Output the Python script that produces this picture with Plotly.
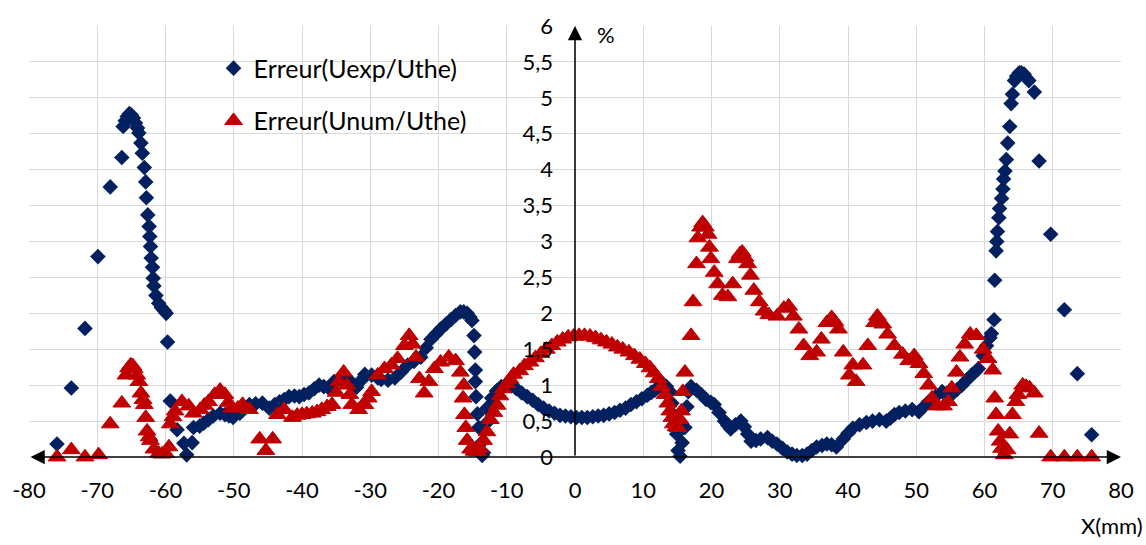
import plotly.graph_objects as go

# Erreur(Uexp/Uthe) : position X (mm) et erreur (%)
uexp_x = [
    -75.9, -73.8, -71.8, -69.9, -68.1, -66.4, -66.2, -65.9, -65.6, -65.3,
    -65.0, -64.7, -64.4, -64.1, -63.9, -63.6, -63.4, -63.1, -62.9, -62.8,
    -62.6, -62.4, -62.3, -62.2, -62.1, -61.9, -61.8, -61.7, -61.4, -61.0,
    -60.6, -60.2, -59.9, -59.7, -59.3, -58.3, -57.3, -56.9, -56.1, -55.9,
    -55.0, -54.4, -53.7, -53.0, -52.0, -51.3, -50.7, -50.1, -49.1, -48.4,
    -47.7, -46.8, -45.8, -44.8, -44.0, -43.3, -42.6, -41.9, -41.1, -40.4,
    -39.7, -39.0, -38.2, -37.5, -36.8, -36.1, -35.3, -34.6, -33.9, -33.2,
    -32.6, -32.0, -31.3, -30.8, -29.8, -28.9, -28.4, -27.4, -26.4, -25.5,
    -24.5, -23.6, -22.6, -21.8, -21.1, -20.4, -19.7, -18.9, -18.2, -17.5,
    -16.8, -16.3, -15.8, -15.4, -15.1, -14.8, -14.7, -14.6, -14.6, -14.5,
    -14.3, -14.1, -13.9, -13.6, -13.4, -13.1, -12.9, -12.2, -11.5, -10.8,
    -10.0, -9.3, -8.6, -7.8, -7.0, -6.2, -5.4, -4.6, -3.8, -3.0,
    -2.2, -1.4, -0.6, 0.2, 1.0, 1.8, 2.6, 3.4, 4.2, 5.0,
    5.8, 6.6, 7.4, 8.2, 9.0, 9.8, 10.6, 11.2, 11.7, 12.3,
    12.9, 13.4, 13.9, 14.2, 14.4, 14.7, 14.9, 15.1, 15.4, 15.7,
    16.1, 16.4, 16.6, 17.0, 17.8, 18.5, 19.2, 19.9, 20.4, 21.1,
    21.9, 22.4, 22.8, 23.5, 24.3, 24.8, 25.3, 25.8, 26.5, 27.2,
    28.2, 28.9, 29.6, 30.4, 31.1, 31.8, 32.5, 33.3, 34.0, 34.7,
    35.4, 36.2, 36.9, 37.6, 38.3, 39.3, 40.0, 40.7, 41.7, 42.7,
    43.6, 44.6, 45.6, 46.2, 46.8, 47.5, 48.4, 49.4, 50.4, 51.1,
    51.8, 52.8, 53.8, 54.5, 55.2, 56.0, 56.7, 57.4, 58.1, 58.6,
    59.1, 59.8, 60.3, 60.8, 61.0, 61.4, 61.5, 61.7, 61.8, 61.9,
    62.1, 62.2, 62.5, 62.7, 62.8, 63.0, 63.2, 63.4, 63.7, 63.9,
    64.1, 64.4, 64.7, 65.1, 65.4, 65.8, 66.1, 66.5, 67.3, 68.0,
    69.7, 71.7, 73.6, 75.7,
]
uexp_err = [
    0.18, 0.96, 1.79, 2.79, 3.76, 4.17, 4.60, 4.68, 4.74, 4.78,
    4.76, 4.72, 4.65, 4.58, 4.51, 4.37, 4.23, 4.03, 3.83, 3.61,
    3.37, 3.21, 3.07, 2.93, 2.77, 2.64, 2.49, 2.38, 2.25, 2.14,
    2.08, 2.04, 2.00, 1.60, 0.78, 0.38, 0.19, 0.03, 0.20, 0.41,
    0.43, 0.47, 0.52, 0.57, 0.61, 0.59, 0.57, 0.55, 0.61, 0.68,
    0.73, 0.74, 0.75, 0.68, 0.73, 0.77, 0.80, 0.84, 0.85, 0.84,
    0.87, 0.89, 0.95, 1.00, 0.98, 0.96, 1.05, 1.08, 1.09, 1.08,
    1.02, 0.97, 1.07, 1.15, 1.14, 1.10, 1.08, 1.07, 1.10, 1.18,
    1.28, 1.33, 1.39, 1.52, 1.64, 1.71, 1.78, 1.85, 1.91, 1.97,
    2.02, 2.02, 2.00, 1.95, 1.90, 1.69, 1.46, 1.21, 1.05, 0.84,
    0.60, 0.41, 0.18, 0.02, 0.06, 0.46, 0.68, 0.82, 0.92, 0.98,
    1.02, 0.99, 0.95, 0.89, 0.84, 0.79, 0.73, 0.68, 0.64, 0.61,
    0.58, 0.57, 0.56, 0.55, 0.55, 0.55, 0.56, 0.57, 0.58, 0.60,
    0.62, 0.65, 0.68, 0.73, 0.77, 0.81, 0.86, 0.90, 0.93, 0.98,
    1.02, 0.98, 0.91, 0.75, 0.59, 0.45, 0.32, 0.09, 0.01, 0.20,
    0.41, 0.70, 0.91, 0.98, 0.93, 0.87, 0.80, 0.76, 0.73, 0.62,
    0.50, 0.44, 0.39, 0.45, 0.50, 0.42, 0.32, 0.22, 0.23, 0.25,
    0.27, 0.22, 0.18, 0.12, 0.07, 0.04, 0.02, 0.02, 0.04, 0.09,
    0.14, 0.16, 0.18, 0.17, 0.14, 0.25, 0.33, 0.40, 0.45, 0.48,
    0.50, 0.52, 0.50, 0.54, 0.59, 0.62, 0.64, 0.66, 0.63, 0.70,
    0.77, 0.84, 0.91, 0.89, 0.87, 0.94, 1.00, 1.07, 1.14, 1.18,
    1.23, 1.41, 1.55, 1.66, 1.72, 1.91, 2.46, 2.87, 3.00, 3.14,
    3.33, 3.46, 3.60, 3.73, 3.87, 3.98, 4.14, 4.37, 4.60, 4.92,
    5.05, 5.24, 5.30, 5.35, 5.35, 5.33, 5.28, 5.24, 5.08, 4.12,
    3.10, 2.05, 1.16, 0.31,
]

# Erreur(Unum/Uthe) : position X (mm) et erreur (%)
unum_x = [
    -75.9, -73.8, -71.8, -69.8, -68.1, -66.4, -65.8, -65.4, -65.1, -64.8,
    -64.6, -64.2, -63.9, -63.6, -63.3, -63.1, -62.9, -62.7, -62.4, -62.2,
    -61.7, -61.0, -60.5, -60.0, -59.5, -59.3, -58.9, -58.6, -57.6, -56.6,
    -55.9, -54.9, -54.3, -53.7, -52.8, -52.0, -51.3, -50.8, -50.3, -49.4,
    -48.7, -47.7, -46.2, -45.3, -44.3, -43.6, -42.6, -41.4, -40.7, -40.0,
    -39.3, -38.5, -37.8, -37.1, -36.3, -35.6, -35.0, -34.6, -33.9, -33.4,
    -33.0, -32.7, -31.7, -30.8, -30.3, -29.8, -28.9, -27.9, -26.9, -26.0,
    -25.0, -24.3, -23.8, -23.3, -22.8, -22.1, -21.4, -20.6, -19.7, -18.5,
    -17.5, -16.8, -16.3, -16.4, -16.2, -16.0, -15.8, -15.3, -14.8, -14.3,
    -13.9, -13.4, -12.9, -12.4, -11.9, -11.4, -11.0, -10.5, -10.0, -9.5,
    -9.0, -8.1, -7.4, -6.6, -5.8, -5.0, -4.2, -3.4, -2.6, -1.8,
    -1.0, -0.2, 0.6, 1.4, 2.2, 3.0, 3.8, 4.6, 5.4, 6.2,
    7.0, 7.9, 8.7, 9.5, 10.3, 11.0, 11.6, 12.2, 12.7, 13.2,
    13.6, 13.9, 14.2, 14.4, 14.8, 15.1, 15.4, 15.6, 15.8, 16.1,
    17.0, 17.3, 17.8, 18.0, 18.4, 18.7, 19.1, 19.5, 19.7, 19.9,
    20.4, 20.9, 21.6, 22.4, 23.1, 23.8, 24.2, 24.5, 24.9, 25.3,
    25.7, 26.2, 27.0, 27.7, 28.4, 29.6, 30.6, 31.3, 32.0, 32.8,
    33.5, 34.4, 35.4, 36.1, 36.9, 37.6, 38.1, 38.6, 39.3, 40.2,
    40.7, 41.2, 42.2, 42.9, 43.9, 44.3, 45.1, 45.8, 46.8, 48.0,
    48.9, 49.7, 50.4, 51.1, 51.8, 52.3, 53.0, 54.0, 54.7, 55.2,
    55.9, 56.4, 57.1, 57.9, 58.8, 59.8, 60.5, 61.2, 61.5, 61.7,
    62.0, 62.3, 62.5, 62.9, 63.3, 63.7, 64.1, 64.6, 64.9, 65.6,
    66.1, 66.6, 67.3, 68.0, 69.7, 71.7, 73.6, 75.7,
]
unum_err = [
    0.00, 0.10, 0.00, 0.03, 0.46, 0.75, 1.14, 1.24, 1.28, 1.27,
    1.23, 1.14, 1.05, 0.89, 0.80, 0.73, 0.55, 0.36, 0.28, 0.23,
    0.11, 0.05, 0.04, 0.05, 0.14, 0.46, 0.56, 0.64, 0.77, 0.71,
    0.61, 0.66, 0.72, 0.77, 0.87, 0.93, 0.87, 0.76, 0.68, 0.68,
    0.73, 0.66, 0.25, 0.09, 0.25, 0.59, 0.66, 0.55, 0.58, 0.59,
    0.60, 0.61, 0.63, 0.66, 0.70, 0.73, 0.90, 1.05, 1.18, 1.00,
    0.87, 0.73, 0.66, 0.73, 0.82, 0.91, 1.14, 1.23, 1.28, 1.37,
    1.55, 1.69, 1.57, 1.39, 1.09, 0.89, 1.05, 1.23, 1.32, 1.39,
    1.34, 1.18, 1.00, 0.82, 0.59, 0.41, 0.23, 0.11, 0.08, 0.07,
    0.12, 0.23, 0.35, 0.52, 0.62, 0.72, 0.85, 0.95, 1.02, 1.08,
    1.15, 1.20, 1.27, 1.32, 1.38, 1.44, 1.50, 1.55, 1.60, 1.64,
    1.67, 1.68, 1.69, 1.69, 1.68, 1.66, 1.63, 1.60, 1.57, 1.53,
    1.50, 1.46, 1.41, 1.36, 1.30, 1.24, 1.17, 1.09, 0.98, 0.87,
    0.75, 0.64, 0.55, 0.46, 0.42, 0.41, 0.52, 0.64, 0.91, 1.18,
    1.69, 2.16, 2.69, 3.05, 3.20, 3.26, 3.20, 3.10, 2.92, 2.76,
    2.57, 2.41, 2.25, 2.23, 2.41, 2.76, 2.83, 2.85, 2.78, 2.69,
    2.53, 2.32, 2.16, 2.03, 1.98, 1.96, 2.07, 2.10, 1.96, 1.78,
    1.55, 1.41, 1.46, 1.64, 1.87, 1.94, 1.88, 1.78, 1.46, 1.14,
    1.28, 1.05, 1.28, 1.55, 1.87, 1.96, 1.85, 1.71, 1.55, 1.43,
    1.34, 1.41, 1.30, 1.16, 1.00, 0.82, 0.71, 0.71, 0.77, 0.96,
    1.18, 1.39, 1.57, 1.71, 1.69, 1.50, 1.37, 1.21, 0.82, 0.59,
    0.36, 0.22, 0.12, 0.03, 0.10, 0.32, 0.59, 0.77, 0.87, 1.00,
    0.98, 0.96, 0.89, 0.33, 0.00, 0.00, 0.00, 0.00,
]

x_ticks = [-80, -70, -60, -50, -40, -30, -20, -10, 0, 10, 20, 30, 40, 50, 60, 70, 80]
x_tick_labels = ["-80", "-70", "-60", "-50", "-40", "-30", "-20", "-10", "0",
                 "10", "20", "30", "40", "50", "60", "70", "80"]
y_ticks = [0, 0.5, 1, 1.5, 2, 2.5, 3, 3.5, 4, 4.5, 5, 5.5, 6]
y_tick_labels = ["0", "0,5", "1", "1,5", "2", "2,5", "3", "3,5", "4", "4,5", "5", "5,5", "6"]

BLUE = "#002060"
RED = "#C00000"
GRID = "#D9D9D9"
FONT = "Lato, 'Open Sans', sans-serif"

fig = go.Figure()
fig.add_trace(go.Scatter(
    x=uexp_x, y=uexp_err, mode="markers", name="Erreur(Uexp/Uthe)",
    legendgroup="uexp", cliponaxis=False,
    marker=dict(symbol="diamond", size=12, color=BLUE, line=dict(width=0)),
))
fig.add_trace(go.Scatter(
    x=unum_x, y=unum_err, mode="markers", name="Erreur(Unum/Uthe)",
    legendgroup="unum", cliponaxis=False,
    marker=dict(symbol="triangle-up", size=15.5, color=RED, line=dict(width=1, color=RED)),
))

# axes drawn through the origin, with arrow tips
fig.add_annotation(x=80, y=0, ax=-80, ay=0, xref="x", yref="y", axref="x", ayref="y",
                   text="", showarrow=True, arrowside="end+start",
                   arrowhead=2, startarrowhead=2, arrowsize=1.9, startarrowsize=1.9,
                   arrowwidth=1.5, arrowcolor="black", standoff=0, startstandoff=0)
fig.add_annotation(x=0, y=6, ax=0, ay=0, xref="x", yref="y", axref="x", ayref="y",
                   text="", showarrow=True, arrowhead=2, arrowsize=1.9,
                   arrowwidth=1.5, arrowcolor="black", standoff=0)

fig.add_annotation(x=4.5, y=5.88, xref="x", yref="y", text="%", showarrow=False,
                   font=dict(family=FONT, size=22, color="black"))
fig.add_annotation(x=1.022, y=-0.159, xref="paper", yref="paper", text="X(mm)",
                   xanchor="right", yanchor="middle", showarrow=False,
                   font=dict(family=FONT, size=22, color="black"))

fig.update_layout(
    width=1146, height=545,
    margin=dict(l=24, r=18, t=17, b=88),
    paper_bgcolor="white", plot_bgcolor="white",
    font=dict(family=FONT, size=22, color="black"),
    xaxis=dict(range=[-80, 80], tickmode="array", tickvals=x_ticks, ticktext=x_tick_labels,
               showgrid=True, gridcolor=GRID, gridwidth=1.3, zeroline=False,
               showline=False, ticks="", ticklabelstandoff=18),
    yaxis=dict(range=[0, 6], tickmode="array", tickvals=y_ticks, ticktext=y_tick_labels,
               anchor="free", position=0.5, side="left",
               showgrid=True, gridcolor=GRID, gridwidth=1.3, zeroline=False,
               showline=False, ticks="", ticklabelstandoff=22),
    legend=dict(x=0.169, y=0.955, xanchor="left", yanchor="top",
                bgcolor="rgba(0,0,0,0)", font=dict(family=FONT, size=25),
                traceorder="grouped", tracegroupgap=17),
    showlegend=True,
)

fig.write_html("out.html")
